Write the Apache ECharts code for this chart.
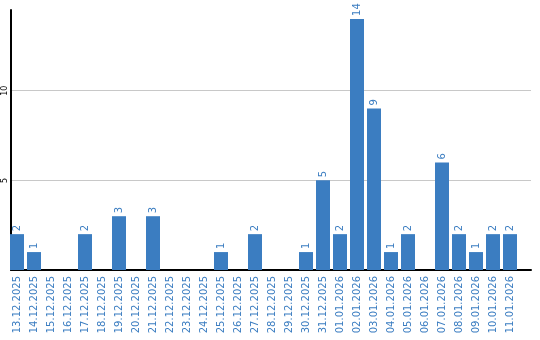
<!DOCTYPE html>
<html><head><meta charset="utf-8">
<script src="https://cdn.jsdelivr.net/npm/echarts@6/dist/echarts.min.js"></script>
<style>html,body{margin:0;padding:0;background:#fff}#c{width:540px;height:340px}</style>
</head><body><div id="c"></div>
<script>
const categories = ["13.12.2025","14.12.2025","15.12.2025","16.12.2025","17.12.2025","18.12.2025","19.12.2025","20.12.2025","21.12.2025","22.12.2025","23.12.2025","24.12.2025","25.12.2025","26.12.2025","27.12.2025","28.12.2025","29.12.2025","30.12.2025","31.12.2025","01.01.2026","02.01.2026","03.01.2026","04.01.2026","05.01.2026","06.01.2026","07.01.2026","08.01.2026","09.01.2026","10.01.2026","11.01.2026"];
const values = [2,1,0,0,2,0,3,0,3,0,0,0,1,0,2,0,0,1,5,2,14,9,1,2,0,6,2,1,2,2];
const yMin = 0, yMax = 14.5, yInterval = 5;

const blue = '#3b7dc1';
const chart = echarts.init(document.getElementById('c'), null, {renderer:'canvas'});
chart.setOption({
  animation: false,
  grid: [
    {left: 8.5, width: 510, top: 10, bottom: 70, containLabel: false},
    {left: 11, right: 9, top: 10, bottom: 70, containLabel: false}
  ],
  xAxis: [
    {type:'category', gridIndex:0, data: categories, boundaryGap: true,
     axisLine:{show:false}, axisTick:{show:false},
     axisLabel:{rotate:90, interval:0, margin:6, color: blue, fontFamily:'DejaVu Sans', fontSize:10}},
    {type:'category', gridIndex:1, data: [''], boundaryGap: true,
     axisLine:{show:true, lineStyle:{color:'#000', width:2}}, axisTick:{show:false}, axisLabel:{show:false}}
  ],
  yAxis: [
    {type:'value', gridIndex:0, min:yMin, max:yMax, interval:yInterval, show:false, splitLine:{show:false}},
    {type:'value', gridIndex:1, min:yMin, max:yMax, interval:yInterval,
     axisLine:{show:true, lineStyle:{color:'#000', width:2}}, axisTick:{show:false},
     axisLabel:{rotate:90, margin:2, color:'#000', fontFamily:'DejaVu Sans', fontSize:8,
       showMinLabel:false, showMaxLabel:false},
     splitLine:{show:true, showMinLine:false, showMaxLine:false, lineStyle:{color:'#c8c8c8', width:1}}}
  ],
  series: [{
    type:'bar', xAxisIndex:0, yAxisIndex:0, data: values, barWidth: 14,
    itemStyle:{color: blue},
    label:{show:true, position:'top', rotate:90, align:'left', verticalAlign:'middle', distance:3,
      color: blue, fontFamily:'DejaVu Sans', fontSize:10,
      formatter: p => p.value > 0 ? String(p.value) : ''}
  }]
});
</script></body></html>
